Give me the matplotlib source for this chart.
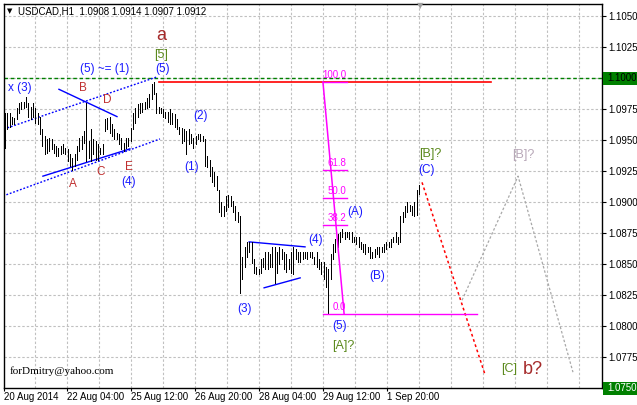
import matplotlib
matplotlib.use('Agg')
import matplotlib.pyplot as plt
import numpy as np

W, H = 637, 405
plt.rcParams['font.family'] = ['Liberation Sans', 'DejaVu Sans']

title_text = "USDCAD,H1  1.0908 1.0914 1.0907 1.0912"

# hourly bar highs / lows
highs = [
    1.0972, 1.0972, 1.0972, 1.0969, 1.0968, 1.0976, 1.0980, 1.0981, 1.0981, 1.0985,
    1.0980, 1.0977, 1.0980, 1.0976, 1.0972, 1.0969, 1.0959, 1.0953, 1.0951, 1.0952,
    1.0951, 1.0947, 1.0945, 1.0944, 1.0945, 1.0947, 1.0944, 1.0943, 1.0939, 1.0936,
    1.0939, 1.0945, 1.0952, 1.0953, 1.0957, 1.0980, 1.0949, 1.0959, 1.0951, 1.0949,
    1.0947, 1.0944, 1.0947, 1.0967, 1.0968, 1.0969, 1.0963, 1.0959, 1.0956, 1.0955,
    1.0952, 1.0948, 1.0952, 1.0952, 1.0960, 1.0972, 1.0976, 1.0979, 1.0980, 1.0980,
    1.0981, 1.0984, 1.0987, 1.0995, 1.0997, 1.0988, 1.0977, 1.0976, 1.0975, 1.0973,
    1.0973, 1.0975, 1.0972, 1.0971, 1.0967, 1.0961, 1.0960, 1.0959, 1.0957, 1.0959,
    1.0955, 1.0952, 1.0953, 1.0955, 1.0955, 1.0953, 1.0951, 1.0937, 1.0934, 1.0928,
    1.0924, 1.0921, 1.0910, 1.0900, 1.0897, 1.0905, 1.0906, 1.0905, 1.0901, 1.0897,
    1.0892, 1.0889, 1.0856, 1.0864, 1.0868, 1.0868, 1.0868, 1.0854, 1.0848, 1.0846,
    1.0854, 1.0855, 1.0860, 1.0860, 1.0858, 1.0864, 1.0864, 1.0860, 1.0864, 1.0862,
    1.0860, 1.0858, 1.0854, 1.0860, 1.0864, 1.0862, 1.0860, 1.0860, 1.0860, 1.0860,
    1.0860, 1.0860, 1.0860, 1.0856, 1.0860, 1.0854, 1.0852, 1.0852, 1.0848, 1.0846,
    1.0858, 1.0866, 1.0870, 1.0874, 1.0876, 1.0878, 1.0876, 1.0876, 1.0876, 1.0876,
    1.0872, 1.0872, 1.0872, 1.0868, 1.0866, 1.0866, 1.0864, 1.0864, 1.0860, 1.0862,
    1.0864, 1.0864, 1.0864, 1.0866, 1.0868, 1.0868, 1.0870, 1.0872, 1.0876, 1.0872,
    1.0889, 1.0892, 1.0897, 1.0900, 1.0898, 1.0897, 1.0900, 1.0910, 1.0914]
lows = [
    1.0944, 1.0959, 1.0961, 1.0963, 1.0963, 1.0967, 1.0972, 1.0975, 1.0976, 1.0977,
    1.0969, 1.0967, 1.0969, 1.0964, 1.0963, 1.0955, 1.0945, 1.0939, 1.0940, 1.0941,
    1.0943, 1.0940, 1.0937, 1.0937, 1.0939, 1.0940, 1.0939, 1.0933, 1.0929, 1.0926,
    1.0929, 1.0934, 1.0941, 1.0943, 1.0948, 1.0933, 1.0936, 1.0933, 1.0939, 1.0934,
    1.0934, 1.0939, 1.0939, 1.0957, 1.0959, 1.0956, 1.0953, 1.0951, 1.0951, 1.0947,
    1.0943, 1.0941, 1.0944, 1.0945, 1.0949, 1.0959, 1.0964, 1.0969, 1.0972, 1.0973,
    1.0975, 1.0976, 1.0977, 1.0983, 1.0987, 1.0972, 1.0972, 1.0972, 1.0969, 1.0968,
    1.0965, 1.0963, 1.0963, 1.0961, 1.0959, 1.0955, 1.0948, 1.0949, 1.0939, 1.0947,
    1.0948, 1.0944, 1.0947, 1.0951, 1.0949, 1.0949, 1.0929, 1.0928, 1.0921, 1.0916,
    1.0913, 1.0910, 1.0892, 1.0889, 1.0889, 1.0893, 1.0896, 1.0897, 1.0892, 1.0886,
    1.0884, 1.0827, 1.0838, 1.0848, 1.0856, 1.0860, 1.0851, 1.0843, 1.0842, 1.0842,
    1.0843, 1.0848, 1.0846, 1.0846, 1.0848, 1.0848, 1.0835, 1.0843, 1.0850, 1.0854,
    1.0846, 1.0844, 1.0846, 1.0843, 1.0842, 1.0854, 1.0852, 1.0852, 1.0854, 1.0855,
    1.0854, 1.0856, 1.0855, 1.0850, 1.0848, 1.0846, 1.0842, 1.0838, 1.0832, 1.0810,
    1.0838, 1.0854, 1.0860, 1.0864, 1.0868, 1.0872, 1.0870, 1.0872, 1.0870, 1.0868,
    1.0868, 1.0866, 1.0864, 1.0862, 1.0860, 1.0858, 1.0860, 1.0855, 1.0855, 1.0856,
    1.0858, 1.0856, 1.0860, 1.0860, 1.0862, 1.0864, 1.0864, 1.0868, 1.0868, 1.0866,
    1.0868, 1.0884, 1.0888, 1.0892, 1.0893, 1.0890, 1.0889, 1.0890, 1.0907]

date_labels = ["20 Aug 2014", "22 Aug 04:00", "25 Aug 12:00", "26 Aug 20:00",
               "28 Aug 04:00", "29 Aug 12:00", "1 Sep 20:00"]
date_label_bars = [-0.43, 26.66, 54.18, 81.69, 109.2, 136.7, 164.2]
price_ticks = [round(1.0750 + 0.0025 * k, 4) for k in range(13)]

# drawn objects (bar index, price)
channel_upper = ([-0.43, 65.35], [1.0959, 1.1001])
channel_lower = ([-0.86, 66.64], [1.0905, 1.0951])
tri1_upper = ([23.2, 48.15], [1.0991, 1.0969])
tri1_lower = ([16.3, 53.7], [1.0921, 1.0943])
tri2_upper = ([105.0, 129.0], [1.0868, 1.0864])
tri2_lower = ([111.4, 126.9], [1.0831, 1.0839])
red_proj = ([179.3, 206.4], [1.0916, 1.0761])
gray_proj = ([196.5, 220.6, 244.2], [1.0821, 1.0921, 1.0763])
resistance_x = [66.0, 209.0]
resistance_price = 1.0997
round_level = 1.1000
fib_high, fib_low = 1.0997, 1.0810
fib_ratios = [0.0, 38.2, 50.0, 61.8, 100.0]
fib_x0, fib_x1_short, fib_x1_zero = 136.7, 147.0, 202.9
fib_diag_x = [136.7, 145.8]

BAR_PX = 2.3258
YMIN, YMAX = 1.0750, 1.1060
L_PX, R_PX, T_PX, B_PX = 3.5, 602.0, 3.7, 388.3

fig = plt.figure(figsize=(W / 100, H / 100), dpi=100)
fig.patch.set_facecolor('white')
ax = fig.add_axes([L_PX / W, 1 - B_PX / H, (R_PX - L_PX) / W, (B_PX - T_PX) / H])
ax.set_xlim((L_PX - 5) / BAR_PX, (R_PX - 5) / BAR_PX)
ax.set_ylim(YMIN, YMAX)

# grid
for k in range(1, 19):
    gx = (3 + 32 * k - 5) / BAR_PX
    ax.axvline(gx, color='#c0c0c0', lw=0.8, ls=(0, (2.2, 1.8)), zorder=0)
for p in price_ticks[1:]:
    ax.axhline(p, color='#c0c0c0', lw=0.8, ls=(0, (2.2, 1.8)), zorder=0)

# levels
ax.axhline(round_level, color='#008000', lw=1.0, ls=(0, (2.6, 1.9)), zorder=1)
ax.plot(resistance_x, [resistance_price] * 2, color='red', lw=1.2, zorder=2)

# blue wave lines
for ln in (channel_upper, channel_lower):
    ax.plot(ln[0], ln[1], color='#0000ff', lw=1.0, ls=(0, (1.3, 1.3)), zorder=2)
for ln in (tri1_upper, tri1_lower, tri2_upper, tri2_lower):
    ax.plot(ln[0], ln[1], color='#0000ff', lw=1.0, zorder=2)

# projections
ax.plot(red_proj[0], red_proj[1], color='red', lw=1.1, ls=(0, (1.8, 1.8)), zorder=2)
ax.plot(gray_proj[0], gray_proj[1], color='#a8a8a8', lw=0.9, ls=(0, (2.0, 1.6)), zorder=2)

# bars
idx = np.arange(len(highs))
ax.vlines(idx, lows, highs, colors='black', linewidth=0.6, antialiased=False, zorder=3)

# fibonacci
for r in fib_ratios:
    lvl = fib_low + r / 100.0 * (fib_high - fib_low)
    x1 = fib_x1_zero if r == 0.0 else fib_x1_short
    ax.plot([fib_x0, x1], [lvl, lvl], color='#ff00ff', lw=1.0, zorder=4)
    ax.annotate(f"{r:.1f}", (fib_x1_short - 0.4, lvl), xytext=(0, 1.5),
                textcoords='offset points', ha='right', va='bottom',
                color='#ff00ff', fontsize=7, zorder=4)
ax.plot(fib_diag_x, [fib_high, fib_low], color='#ff00ff', lw=1.1, zorder=4)

# axes styling
for s in ax.spines.values():
    s.set_color('black')
    s.set_linewidth(1.0)
ax.yaxis.tick_right()
ax.set_yticks(price_ticks)
ax.set_yticklabels([f"{p:.4f}" for p in price_ticks])
ax.tick_params(axis='y', direction='out', length=3, width=0.8, labelsize=7, pad=1.5, colors='black')
ax.set_xticks(date_label_bars)
ax.set_xticklabels(date_labels)
for lbl in ax.get_xticklabels():
    lbl.set_ha('left')
ax.tick_params(axis='x', direction='out', length=2.5, width=0.8, labelsize=7, pad=0.5, colors='black')

# highlighted price boxes
def price_box(p, txt_color):
    yf = (p - YMIN) / (YMAX - YMIN) * (B_PX - T_PX)
    ypx = B_PX - yf
    fig.patches.append(plt.Rectangle((603 / W, 1 - (ypx + 6.5) / H), 34 / W, 13 / H,
                                     transform=fig.transFigure, facecolor='#008000',
                                     edgecolor='none', zorder=5))
    fig.text(607.5 / W, 1 - ypx / H, f"{p:.4f}", color=txt_color, fontsize=7,
             ha='left', va='center', zorder=6)

price_box(1.1000, 'black')
price_box(1.0750, 'white')

def ptext(px, py, s, color, size, ha='center', **kw):
    fig.text(px / W, 1 - py / H, s, color=color, fontsize=size, ha=ha, va='center', **kw)

BLUE = '#1a1aff'
RED = '#c03030'
BROWN = '#a52a2a'
OLIVE = '#5c8a1e'
GRAYT = '#b8a8b8'

ptext(18, 11, title_text, 'black', 7, ha='left')
ptext(10, 11, '\u25bc', 'black', 5, family='DejaVu Sans')
ptext(420, 6, '\u25bc', '#a0a0a0', 6, family='DejaVu Sans')

ptext(20, 88, 'x (3)', BLUE, 8.5)
ptext(105, 69, '(5) ~= (1)', BLUE, 8.5)
ptext(163, 69, '(5)', BLUE, 8.5)
ptext(161, 55, '[5]', OLIVE, 9)
ptext(161, 35, 'a', BROWN, 13)
ptext(83, 88, 'B', RED, 8.5)
ptext(107, 100, 'D', RED, 8.5)
ptext(73, 184, 'A', RED, 8.5)
ptext(101, 172, 'C', RED, 8.5)
ptext(129, 167, 'E', RED, 8.5)
ptext(129, 182, '(4)', BLUE, 8.5)
ptext(192, 167, '(1)', BLUE, 8.5)
ptext(200, 116, '(2)', BLUE, 8.5)
ptext(244, 309, '(3)', BLUE, 8.5)
ptext(316, 240, '(4)', BLUE, 8.5)
ptext(355, 212, '(A)', BLUE, 8.5)
ptext(377, 276, '(B)', BLUE, 8.5)
ptext(340, 326, '(5)', BLUE, 8.5)
ptext(343, 346, '[A]?', OLIVE, 9)
ptext(430, 154, '[B]?', OLIVE, 9)
ptext(426, 170, '(C)', BLUE, 8.5)
ptext(523, 155, '[B]?', GRAYT, 9)
ptext(509, 369, '[C]', OLIVE, 9)
ptext(533, 369, 'b?', BROWN, 13)
ptext(10, 371, 'forDmitry@yahoo.com', 'black', 8, ha='left', family='Liberation Serif')

fig.savefig('out.png', dpi=100)
